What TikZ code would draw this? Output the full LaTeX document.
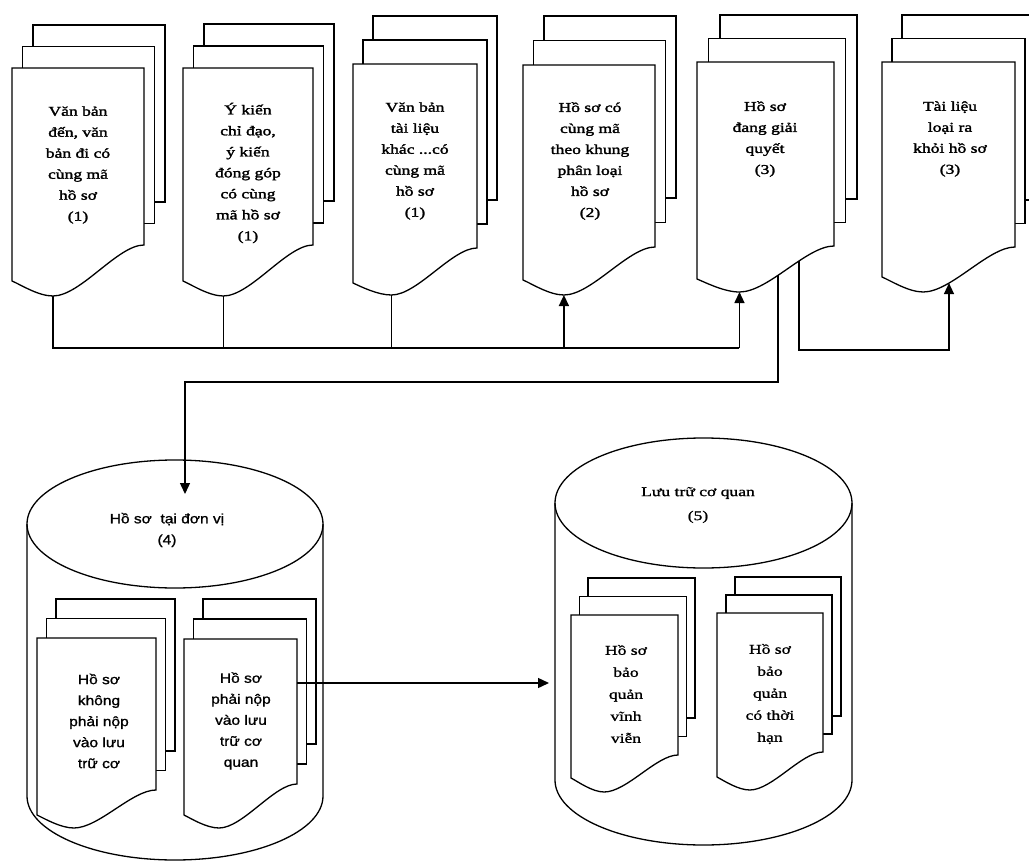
\documentclass[tikz,border=0pt]{standalone}
\usepackage{fontspec}
\setmainfont{Liberation Serif}
\newfontfamily\topfont[FakeStretch=1.3,FakeBold=2]{Liberation Serif}
\newfontfamily\cylserif[FakeStretch=1.3,FakeBold=1.2]{Liberation Serif}
\newfontfamily\cylsans[FakeStretch=1.15,FakeBold=1.2]{Liberation Sans}
\usetikzlibrary{arrows.meta,intersections}

\tikzset{
  docpage/.style={draw=black, fill=white, line width=1.3pt, line join=miter},
  drumline/.style={draw=black, line width=1.3pt},
  conn/.style={draw=black, line width=1.4pt},
  arr/.style={conn, -{Triangle[length=11pt,width=10pt]}},
  toptext/.style={align=center, inner sep=0pt, font=\topfont\fontsize{13.5}{21}\selectfont},
  sanstext/.style={align=center, inner sep=0pt, font=\cylsans\fontsize{13.5}{21}\selectfont},
  seriftext/.style={align=center, inner sep=0pt, font=\cylserif\fontsize{13.5}{22}\selectfont},
}

% #1 name, #2 L, #3 T, #4 R, #5 Rb, #6 dx, #7 dy, #8 Lb delta, #9 Pb delta
\newcommand{\docstack}[9]{%
  \pgfmathsetmacro{\dsW}{#4-(#2)}%
  \pgfmathsetmacro{\dsLb}{#5+#8}%
  \pgfmathsetmacro{\dsPb}{#5+#9}%
  \pgfmathsetmacro{\dsTx}{#2+0.31*\dsW}%
  \pgfmathsetmacro{\dsCa}{#2+0.8*\dsW}%
  \pgfmathsetmacro{\dsCb}{#2+0.52*\dsW}%
  \pgfmathsetmacro{\dsCc}{#2+0.2*\dsW}%
  \pgfmathsetmacro{\dsCx}{#2+0.07*\dsW}%
  \pgfmathsetmacro{\dsCy}{\dsLb+4}%
  \draw[docpage] ({#2+2*#6},{#3-2*#7}) rectangle ({#4+2*#6},{#5-2*#7});
  \draw[docpage] ({#2+#6},{#3-#7}) rectangle ({#4+#6},{#5-#7});
  \draw[docpage,name path global=#1-p] (#2,#3) -- (#4,#3) -- (#4,#5)
     .. controls (\dsCa,#5) and (\dsCb,\dsPb) .. (\dsTx,\dsPb)
     .. controls (\dsCc,\dsPb) and (\dsCx,\dsCy) .. (#2,\dsLb) -- cycle;
  \coordinate (#1-bot) at (\dsTx,\dsPb);
}

% #1 name, #2 L, #3 R, #4 top centre y, #5 ry, #6 bottom centre y
\newcommand{\drumshape}[6]{%
  \pgfmathsetmacro{\cyCx}{(#2+#3)/2}%
  \pgfmathsetmacro{\cyRx}{(#3-(#2))/2}%
  \draw[drumline] (#2,#4) -- (#2,#6)
     .. controls (#2,{#6+0.5523*#5}) and ({\cyCx-0.5523*\cyRx},{#6+#5}) .. (\cyCx,{#6+#5})
     .. controls ({\cyCx+0.5523*\cyRx},{#6+#5}) and (#3,{#6+0.5523*#5}) .. (#3,#6) -- (#3,#4);
  \draw[drumline] (\cyCx,#4) ellipse [x radius=\cyRx, y radius=#5];
  \coordinate (#1-top) at (\cyCx,{#4-#5});
}

\begin{document}
\begin{tikzpicture}[x=1pt,y=-1pt]
\path[use as bounding box] (0,0) rectangle (1029,862);
\clip (0,0) rectangle (1029,862);
\fill[white] (0,0) rectangle (1029,862);

% ---------- top row of document stacks ----------
\docstack{d1}{12}{68}{144}{245}{10.5}{21.5}{36}{51}
\docstack{d2}{183}{68}{313}{245}{10.5}{22}{36}{51}
\docstack{d3}{353}{64}{477}{248}{10}{24}{35}{47}
\docstack{d4}{523}{65}{655}{247}{10.5}{24.5}{33}{48}
\docstack{d5}{697}{62}{834}{246}{11.5}{23.5}{33}{46}
\docstack{d6}{882}{62}{1015}{247}{10}{23.5}{30}{45}

\node[toptext] (d1-t) at (78,165) {Văn bản\\đến, văn\\bản đi có\\cùng mã\\hồ sơ\\(1)};
\node[toptext] (d2-t) at (248,173) {Ý kiến\\chỉ đạo,\\ý kiến\\đóng góp\\có cùng\\mã hồ sơ\\(1)};
\node[toptext] (d3-t) at (415,161) {Văn bản\\tài liệu\\khác ...có\\cùng mã\\hồ sơ\\(1)};
\node[toptext] (d4-t) at (590,161) {Hồ sơ có\\cùng mã\\theo khung\\phân loại\\hồ sơ\\(2)};
\node[toptext] (d5-t) at (765,139) {Hồ sơ\\đang giải\\quyết\\(3)};
\node[toptext] (d6-t) at (950,139) {Tài liệu\\loại ra\\khỏi hồ sơ\\(3)};

% ---------- cylinders ----------
\drumshape{c4}{27}{323}{524}{64}{796}
\drumshape{c5}{555}{852}{503}{65}{780}

\node[sanstext] (c4-t) at (167,530) {Hồ sơ\ \ tại đơn vị\\(4)};
\node[seriftext, font=\cylserif\fontsize{13.5}{24}\selectfont] (c5-t) at (698,505) {Lưu trữ cơ quan\\(5)};

\docstack{c4a}{37}{638}{156}{790}{9.5}{19.5}{25}{38}
\docstack{c4b}{184}{639}{297}{784}{9.5}{20}{31}{44}
\docstack{c5a}{571}{615}{678}{755}{8.5}{18.5}{23}{37}
\docstack{c5b}{717}{613}{823}{752}{9}{18}{25}{38}

\node[sanstext] (c4a-t) at (99,721) {Hồ sơ\\không\\phải nộp\\vào lưu\\trữ cơ};
\node[sanstext] (c4b-t) at (241,721) {Hồ sơ\\phải nộp\\vào lưu\\trữ cơ\\quan};
\node[seriftext] (c5a-t) at (626,694) {Hồ sơ\\bảo\\quản\\vĩnh\\viễn};
\node[seriftext] (c5b-t) at (770,694) {Hồ sơ\\bảo\\quản\\có thời\\hạn};

% ---------- connector helpers ----------
\coordinate (bus) at (0,348);
\coordinate (bus2) at (0,350);
\coordinate (low) at (0,382);
\coordinate (c4in) at (185,494);
\coordinate (c4b-out) at (297,683);
\coordinate (c5in) at (549,683);

\path[name path=v1] (778,200) -- (778,330);
\path[name path=v2] (799,200) -- (799,330);
\path[name path=v3] (949,200) -- (949,330);
\path[name intersections={of=d5-p and v1, by=d5a}];
\path[name intersections={of=d5-p and v2, by=d5b}];
\path[name intersections={of=d6-p and v3, by=d6a}];

% ---------- connectors ----------
\draw[conn] (d1-bot) -- (d1-bot |- bus) -- (d5-bot |- bus);
\draw[conn] (d2-bot) -- (d2-bot |- bus);
\draw[conn] (d3-bot) -- (d3-bot |- bus);
\draw[arr] (d4-bot |- bus) -- (d4-bot);
\draw[arr] (d5-bot |- bus) -- (d5-bot);
\draw[arr] (d5a) -- (d5a |- low) -| (c4in);
\draw[arr] (d5b) -- (d5b |- bus2) -| (d6a);
\draw[arr] (c4b-out) -- (c5in);
\end{tikzpicture}
\end{document}
